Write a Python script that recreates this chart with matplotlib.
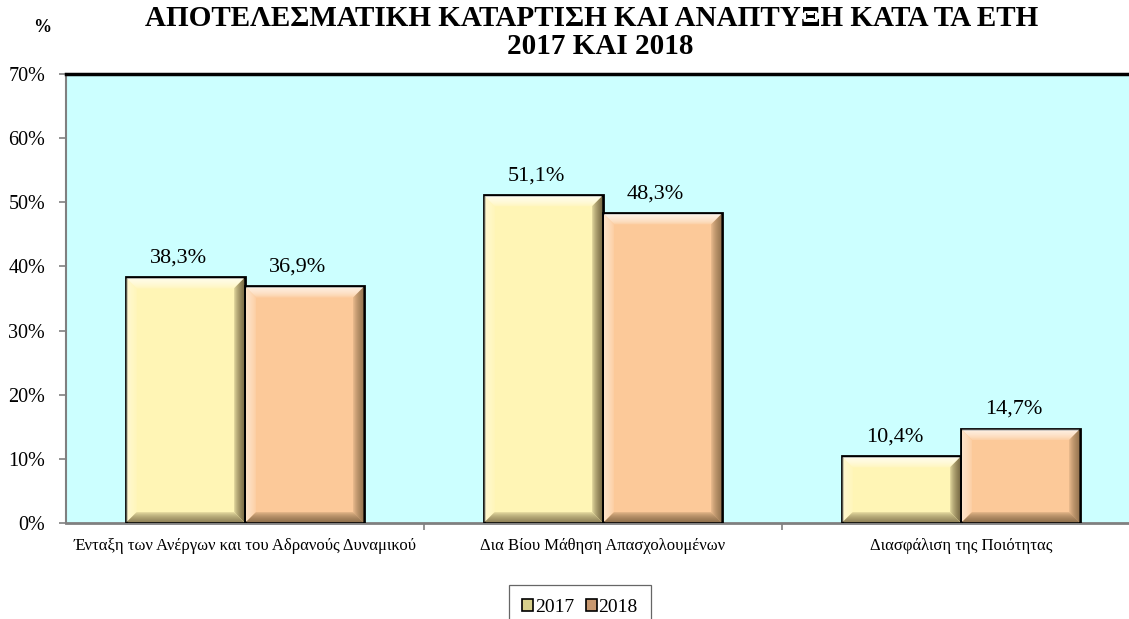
import matplotlib
matplotlib.use("Agg")
import matplotlib.pyplot as plt
import numpy as np
from matplotlib.ticker import FuncFormatter
from matplotlib.patches import Polygon, Patch
from matplotlib.colors import to_rgb

categories = ["Ένταξη των Ανέργων και του Αδρανούς Δυναμικού",
              "Δια Βίου Μάθηση Απασχολουμένων",
              "Διασφάλιση της Ποιότητας"]
series_names = ["2017", "2018"]
values_2017 = [38.3, 51.1, 10.4]
values_2018 = [36.9, 48.3, 14.7]
yticks = [0, 10, 20, 30, 40, 50, 60, 70]
title_line1 = "ΑΠΟΤΕΛΕΣΜΑΤΙΚΗ ΚΑΤΑΡΤΙΣΗ ΚΑΙ ΑΝΑΠΤΥΞΗ ΚΑΤΑ ΤΑ ΕΤΗ"
title_line2 = "2017 ΚΑΙ 2018"

plt.rcParams['font.family'] = ['Liberation Serif', 'DejaVu Serif']

W, H = 1129, 619
fig = plt.figure(figsize=(W / 100, H / 100), dpi=100)
ax = fig.add_axes([66 / W, (H - 523) / H, 1074 / W, 449 / H])
ax.set_facecolor("#CCFFFF")
ax.set_xlim(-0.5, 2.5)
ax.set_ylim(0, 70)

x = np.arange(len(categories))
bw = 1 / 3
colors = ["#FFF5B5", "#FCC999"]
all_bars = []
for i, vals in enumerate([values_2017, values_2018]):
    offs = (i - 0.5) * bw
    bars = ax.bar(x + offs, vals, bw, color=colors[i], linewidth=0, zorder=3)
    ax.bar(x + offs, vals, bw, fill=False, edgecolor="black", linewidth=2, zorder=5)
    all_bars.append((bars, colors[i]))
    for b, v in zip(bars, vals):
        ax.annotate(f"{v:.1f}%".replace(".", ","),
                    (b.get_x() + b.get_width() / 2, v),
                    xytext=(-5, 7), textcoords="offset points",
                    ha="center", va="bottom", fontsize=16)


def blend(c, target, t):
    c = np.array(to_rgb(c))
    target = np.array(to_rgb(target))
    return tuple(c * (1 - t) + target * t)


renderer = fig.canvas.get_renderer()
depth, nsteps = 10.0, 10
for bars, base in all_bars:
    for b in bars:
        bb = b.get_window_extent(renderer)
        x0, y0, x1, y1 = bb.x0 + 1, bb.y0 + 1, bb.x1 - 1, bb.y1 - 1
        for k in range(nsteps):
            a = depth * k / nsteps
            c = depth * (k + 1) / nsteps
            t = (1 - k / nsteps) ** 0.6
            sides = {
                "top": ([(x0 + a, y1 - a), (x1 - a, y1 - a), (x1 - c, y1 - c), (x0 + c, y1 - c)],
                        blend(base, "white", 0.9 * t)),
                "left": ([(x0 + a, y1 - a), (x0 + c, y1 - c), (x0 + c, y0 + c), (x0 + a, y0 + a)],
                         blend(base, "white", 0.45 * t)),
                "right": ([(x1 - a, y1 - a), (x1 - a, y0 + a), (x1 - c, y0 + c), (x1 - c, y1 - c)],
                          blend(base, "#3a2a10", 0.65 * t)),
                "bottom": ([(x0 + a, y0 + a), (x1 - a, y0 + a), (x1 - c, y0 + c), (x0 + c, y0 + c)],
                           blend(base, "#3a2a10", 0.55 * t)),
            }
            for pts, col in sides.values():
                fig.patches.append(Polygon(pts, closed=True, transform=None,
                                           facecolor=col, edgecolor="none",
                                           zorder=4, figure=fig))

ax.set_yticks(yticks)
ax.yaxis.set_major_formatter(FuncFormatter(lambda v, p: f"{v:.0f}%"))
ax.tick_params(axis="y", labelsize=14.5, color="#808080", length=5, width=1.2, pad=10)
ax.set_xticks([0.5, 1.5])
ax.set_xticklabels([])
ax.set_xticks(x, minor=True)
ax.set_xticklabels(categories, minor=True, fontsize=12)
ax.tick_params(axis="x", which="minor", length=0, pad=11)
ax.tick_params(axis="x", which="major", color="#808080", length=5, width=1.2)

ax.spines["top"].set_color("black")
ax.spines["top"].set_linewidth(2.5)
ax.spines["left"].set_color("#808080")
ax.spines["left"].set_linewidth(1.5)
ax.spines["bottom"].set_color("#808080")
ax.spines["bottom"].set_linewidth(2)
ax.spines["right"].set_visible(False)

fig.text(592 / W, 1 - 18 / H, title_line1, ha="center", va="center",
         fontsize=21, fontweight="bold")
fig.text(600 / W, 1 - 46 / H, title_line2, ha="center", va="center",
         fontsize=21, fontweight="bold")
fig.text(42 / W, 1 - 27 / H, "%", ha="center", va="center",
         fontsize=13, fontweight="bold")

handles = [Patch(facecolor="#D8D08C", edgecolor="black", linewidth=1.2, label=series_names[0]),
           Patch(facecolor="#C89870", edgecolor="black", linewidth=1.2, label=series_names[1])]
leg = fig.legend(handles=handles, loc="upper center", bbox_to_anchor=(580 / W, 1 - 585 / H),
                 ncol=2, fontsize=14, frameon=True, fancybox=False, edgecolor="#404040",
                 handlelength=0.55, handleheight=0.55, handletextpad=0.1,
                 columnspacing=0.6, borderpad=0.7, borderaxespad=0)
leg.get_frame().set_linewidth(0.9)

fig.savefig("out.png", dpi=100)
